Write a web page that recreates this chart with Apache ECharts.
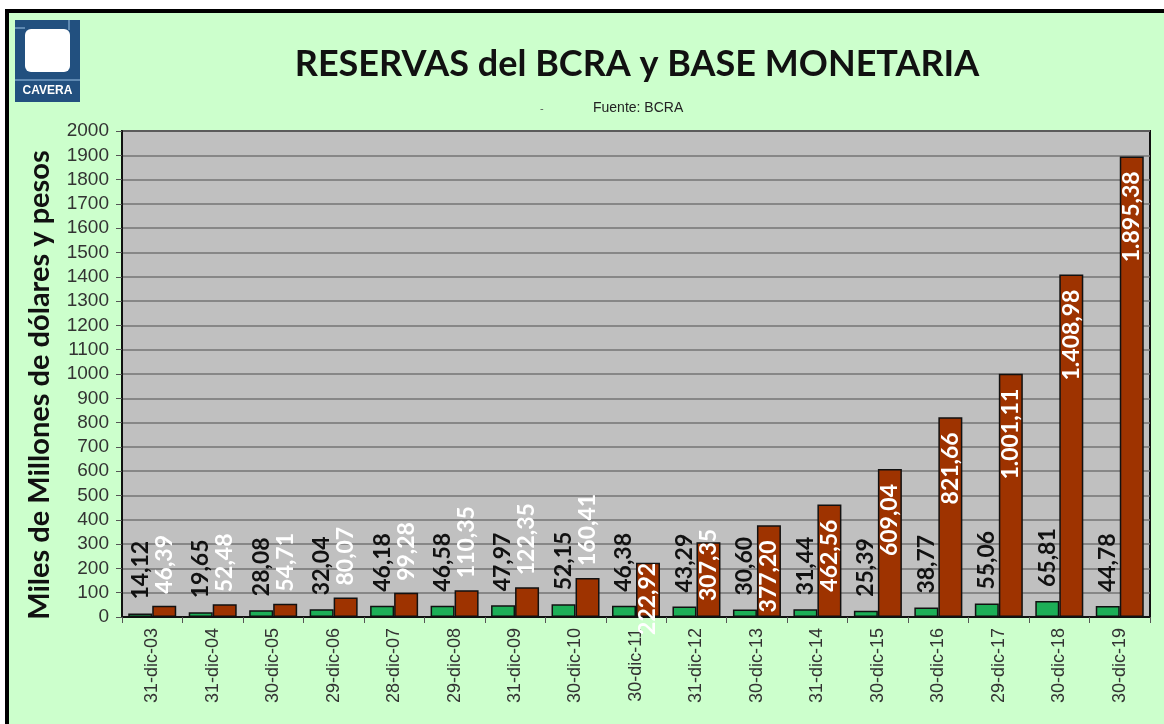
<!DOCTYPE html>
<html><head><meta charset="utf-8">
<script src="https://cdn.jsdelivr.net/npm/echarts@6/dist/echarts.min.js"></script>
<style>
html,body{margin:0;padding:0;background:#fff;width:1164px;height:724px;overflow:hidden;}
#frame{position:absolute;left:5px;top:9px;right:0;bottom:0;background:#CCFFCC;border-top:4px solid #000;border-left:4px solid #000;}
#chart{position:absolute;left:0;top:0;width:1164px;height:724px;}
</style></head>
<body>
<div id="frame"></div>
<div id="chart"></div>
<script>
const categories = ['31-dic-03','31-dic-04','30-dic-05','29-dic-06','28-dic-07','29-dic-08','31-dic-09','30-dic-10','30-dic-11','31-dic-12','30-dic-13','31-dic-14','30-dic-15','30-dic-16','29-dic-17','30-dic-18','30-dic-19'];
const reservas = [14.12,19.65,28.08,32.04,46.18,46.58,47.97,52.15,46.38,43.29,30.60,31.44,25.39,38.77,55.06,65.81,44.78];
const baseMonetaria = [46.39,52.48,54.71,80.07,99.28,110.35,122.35,160.41,222.92,307.35,377.20,462.56,609.04,821.66,1001.11,1408.98,1895.38];
const yTicks = {min:0, max:2000, interval:100};

function fmt(v){
  const parts = v.toFixed(2).split('.');
  const ip = parts[0].replace(/\B(?=(\d{3})+(?!\d))/g,'.');
  return ip + ',' + parts[1];
}
const labelFont = 'Lato, "Open Sans", sans-serif';

const baseData = baseMonetaria.map(v=>{
  let lab;
  if (v < 200) lab = {position:'top', distance:12, align:'left'};
  else if (v < 250) lab = {position:'insideTop', distance:0, align:'right'};
  else if (v < 370) lab = {position:'insideBottom', distance:16, align:'left'};
  else lab = {position:'insideTop', distance:15, align:'right'};
  return {value:v, label:lab};
});

const chart = echarts.init(document.getElementById('chart'), null, {renderer:'canvas'});
chart.setOption({
  backgroundColor:'transparent',
  animation:false,
  title:[
    {text:'RESERVAS del BCRA y BASE MONETARIA', left:632, top:41, textAlign:'center',
     textStyle:{fontFamily:'Lato, sans-serif', fontWeight:'bold', fontSize:36, color:'#111'}},
    {text:'Fuente: BCRA', left:588, top:96,
     textStyle:{fontFamily:'"Liberation Sans", Arial, sans-serif', fontWeight:'normal', fontSize:14, color:'#222'}},
    {text:'-', left:535, top:98,
     textStyle:{fontFamily:'"Liberation Sans", Arial, sans-serif', fontWeight:'normal', fontSize:11, color:'#555'}}
  ],
  graphic:[
    {type:'rect', shape:{x:15,y:20,width:65,height:82}, style:{fill:'#22507F'}},
    {type:'rect', shape:{x:25,y:29,width:45,height:43,r:6}, style:{fill:'#fff'}},
    {type:'line', shape:{x1:15,y1:80,x2:80,y2:80}, style:{stroke:'#9CC3E6',lineWidth:1}},
    {type:'line', shape:{x1:69,y1:20,x2:69,y2:30}, style:{stroke:'#9CC3E6',lineWidth:1}},
    {type:'line', shape:{x1:15,y1:28,x2:25,y2:28}, style:{stroke:'#9CC3E6',lineWidth:1}},
    {type:'text', x:47.5, y:91, style:{text:'CAVERA', fill:'#fff', font:'bold 12px "Liberation Sans Narrow", "Liberation Sans", Arial, sans-serif', textAlign:'center', textVerticalAlign:'middle'}},
    {type:'text', x:40, y:385, rotation:Math.PI/2,
     style:{text:'Miles de Millones de dólares y pesos', fill:'#111', font:'bold 29px Lato, sans-serif', textAlign:'center', textVerticalAlign:'middle'}}
  ],
  grid:{left:122, right:14, top:131, bottom:107, show:true, backgroundColor:'#C0C0C0', borderColor:'#111', borderWidth:2},
  xAxis:{
    type:'category', data:categories,
    axisLine:{show:true, lineStyle:{color:'#111', width:2}},
    axisTick:{show:true, length:6, lineStyle:{color:'#555'}},
    axisLabel:{rotate:90, fontSize:18, color:'#333', margin:11, fontFamily:'"Liberation Sans", Arial, sans-serif'}
  },
  yAxis:{
    type:'value', min:yTicks.min, max:yTicks.max, interval:yTicks.interval,
    axisLine:{show:true, lineStyle:{color:'#111', width:2}},
    axisTick:{show:true, length:6, lineStyle:{color:'#555'}},
    axisLabel:{fontSize:19, color:'#333', margin:13, fontFamily:'"Liberation Sans", Arial, sans-serif', formatter:v=>String(v)},
    splitLine:{show:true, lineStyle:{color:'#747474', width:1.5}}
  },
  series:[
    {name:'Reservas', type:'bar', data:reservas, barWidth:24, barGap:'0%',
     itemStyle:{color:'#1DAF57', borderColor:'#111', borderWidth:1.5},
     label:{show:true, position:'top', distance:14, rotate:90, align:'left', verticalAlign:'middle',
            color:'#111', fontSize:23, fontWeight:'bold', fontFamily:labelFont, formatter:p=>fmt(p.value)}},
    {name:'Base Monetaria', type:'bar', data:baseData, barWidth:24,
     itemStyle:{color:'#9E3300', borderColor:'#111', borderWidth:1.5},
     label:{show:true, rotate:90, verticalAlign:'middle',
            color:'#fff', fontSize:23, fontWeight:'bold', fontFamily:labelFont, formatter:p=>fmt(p.value)}}
  ]
});
</script>
</body></html>
